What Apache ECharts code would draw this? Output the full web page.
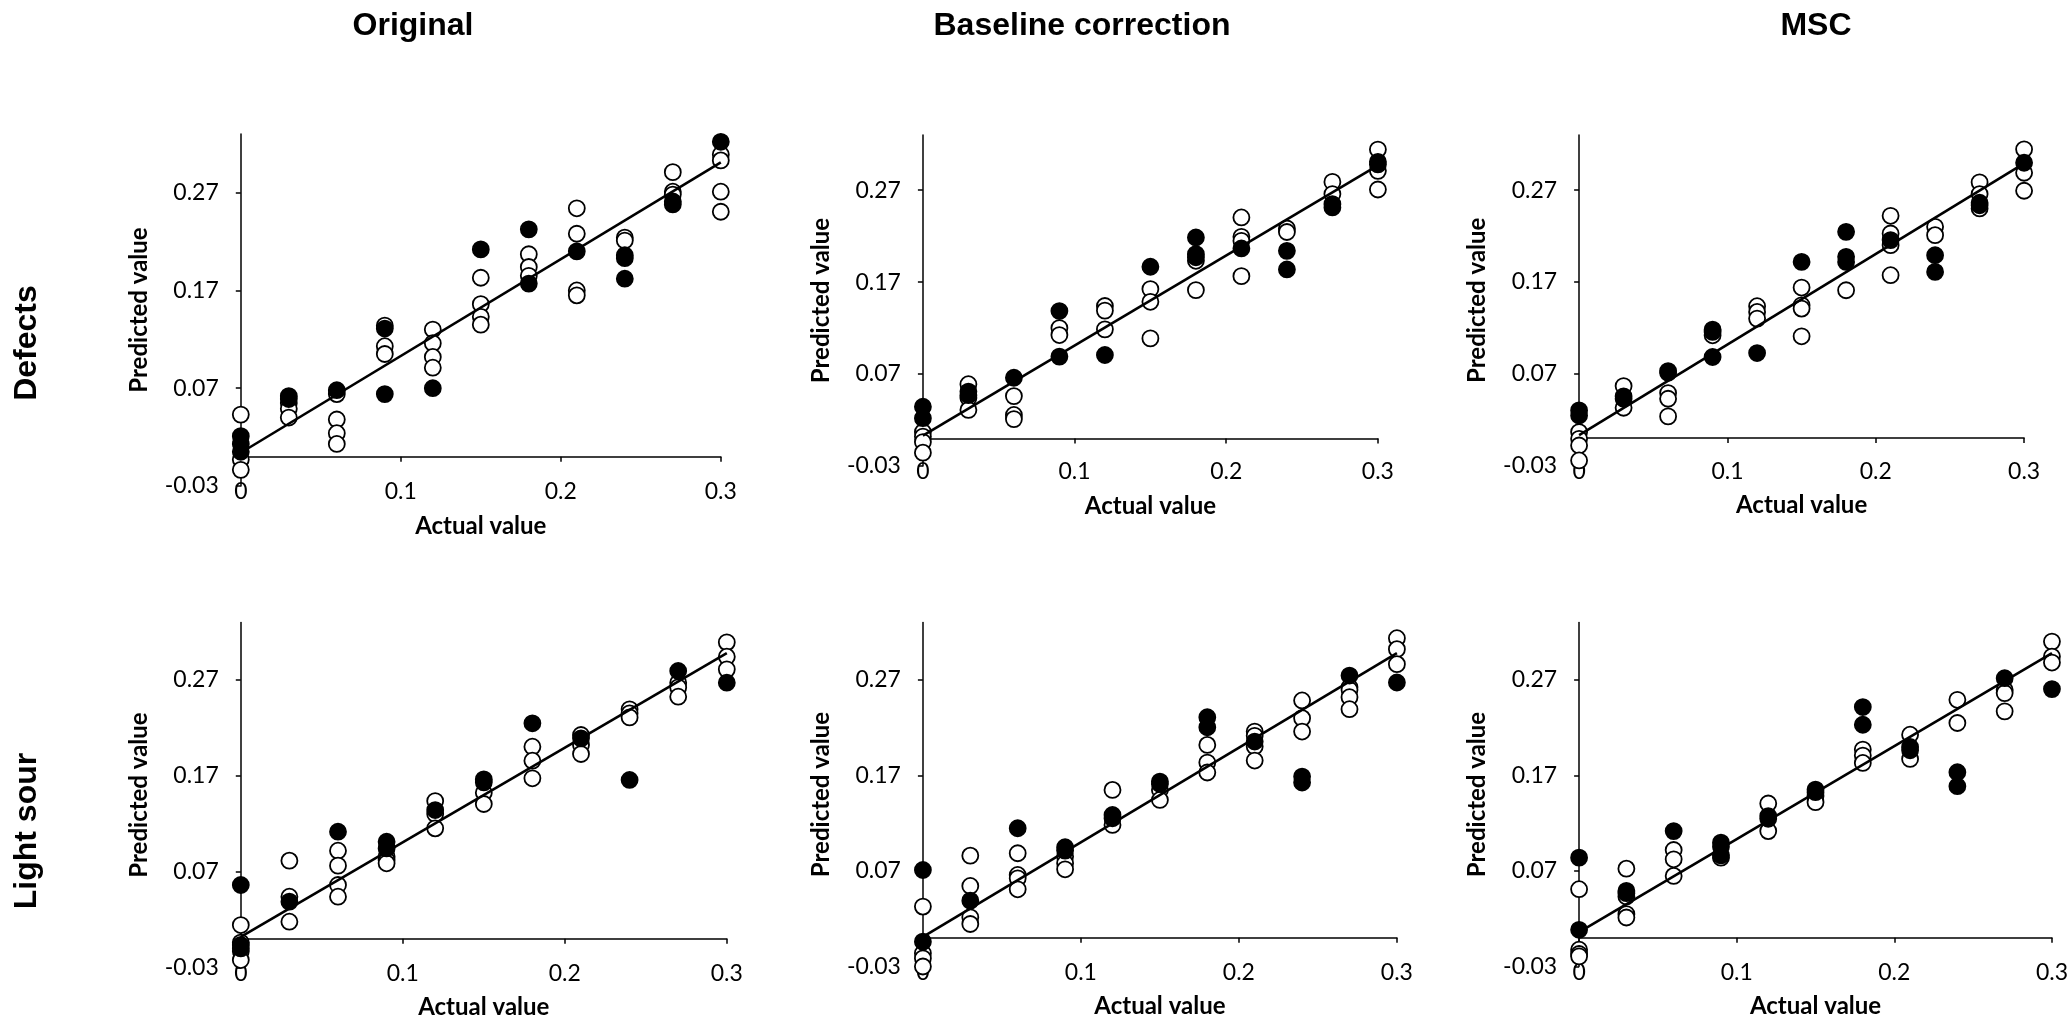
<!DOCTYPE html>
<html><head><meta charset="utf-8">
<script src="https://cdn.jsdelivr.net/npm/echarts@6/dist/echarts.min.js"></script>
<style>html,body{margin:0;padding:0;background:#fff}#c{width:2071px;height:1022px}</style>
</head><body><div id="c"></div>
<script>
// ---------- data ----------
const actual = [0, 0.03, 0.06, 0.09, 0.12, 0.15, 0.18, 0.21, 0.24, 0.27, 0.30];
const xTicks = [0, 0.1, 0.2, 0.3];
const yTicks = [-0.03, 0.07, 0.17, 0.27];
const columnTitles = ['Original', 'Baseline correction', 'MSC'];
const rowTitles = ['Defects', 'Light sour'];
const xName = 'Actual value';
const yName = 'Predicted value';

// predicted values, one inner list per actual value (open = hollow markers, filled = black markers)
const defOrigOpen = [[0.043,-0.003,-0.0135],[0.055,0.049,0.040],[0.064,0.038,0.024,0.013],[0.134,0.113,0.105],[0.130,0.116,0.102,0.091],[0.183,0.156,0.143,0.135],[0.207,0.194,0.185],[0.254,0.228,0.170,0.165],[0.224,0.221],[0.291,0.271,0.268],[0.309,0.303,0.271,0.2505]];
const defOrigFilled = [[0.021,0.013,0.005],[0.062,0.059],[0.068],[0.131,0.064],[0.070],[0.212],[0.2325,0.177],[0.210],[0.206,0.203,0.182],[0.261,0.258],[0.322]];
const defOrigFit = [[0, 0.004], [0.3, 0.301]];

const defBaseOpen = [[0.007,0.002,-0.004,-0.0155],[0.059,0.044,0.031],[0.046,0.0255,0.021],[0.120,0.1124],[0.144,0.139,0.1186],[0.1624,0.1486,0.1088],[0.1932,0.1613],[0.2403,0.2193,0.2149,0.1765],[0.2283,0.2245],[0.279,0.2657],[0.3142,0.291,0.2707]];
const defBaseFilled = [[0.0345,0.022],[0.051,0.047],[0.066],[0.1385,0.089],[0.0907],[0.1867],[0.2186,0.2004,0.197],[0.2066],[0.204,0.1838],[0.2548,0.2512],[0.3008,0.298]];
const defBaseFit = [[0, 0.003], [0.3, 0.297]];

const defMscOpen = [[0.0064,-0.0009,-0.0082,-0.0245],[0.0565,0.0329],[0.0489,0.0427,0.0235],[0.1118],[0.1435,0.1373,0.130],[0.1638,0.1445,0.1409,0.1107],[0.1609],[0.242,0.2227,0.210,0.1773],[0.230,0.2209],[0.2784,0.2656,0.250],[0.3144,0.2889,0.2693]];
const defMscFilled = [[0.030,0.0245],[0.0453,0.0427],[0.0729,0.071],[0.118,0.1155,0.0882],[0.0925],[0.1918],[0.2245,0.1973,0.1918],[0.2155],[0.1991,0.1809],[0.2562,0.2535],[0.2998]];
const defMscFit = [[0, 0.003], [0.3, 0.299]];

const lsOrigOpen = [[0.0143,-0.004,-0.013,-0.0222],[0.0815,0.0439,0.0178],[0.0919,0.0763,0.0561,0.0439],[0.0857,0.0822,0.0787],[0.1437,0.1302,0.1152],[0.1524,0.1406],[0.2004,0.1858,0.1674],[0.2126,0.2022,0.1928],[0.2394,0.2352,0.231],[0.2672,0.2623,0.2526],[0.3093,0.2943,0.2811]];
const lsOrigFilled = [[0.0561,-0.0065,-0.010],[0.0387],[0.1117],[0.1013,0.0943],[0.1343],[0.1663,0.1632],[0.2248],[0.2091],[0.1657],[0.2794],[0.2672]];
const lsOrigFit = [[0, 0.002], [0.3, 0.298]];

const lsBaseOpen = [[0.0327,-0.0162,-0.0214,-0.030],[0.086,0.0543,0.0215,0.0145],[0.0885,0.0658,0.0623,0.0508],[0.085,0.078,0.0717],[0.1548,0.1182],[0.1548,0.1443],[0.2019,0.1834,0.173],[0.2159,0.2114,0.2002,0.1855],[0.2484,0.2299,0.2159],[0.2623,0.2595,0.2518,0.2393],[0.3136,0.3021,0.2864]];
const lsBaseFilled = [[0.071,-0.004],[0.0389],[0.1147],[0.0948,0.0913],[0.1286,0.1251],[0.1635,0.1611],[0.2309,0.2204],[0.2054],[0.1688,0.1625],[0.2745],[0.2672]];
const lsBaseFit = [[0, 0.001], [0.3, 0.298]];

const lsMscOpen = [[0.0509,-0.0124,-0.0169,-0.0194],[0.0724,0.0432,0.0248,0.0213],[0.0919,0.0822,0.0648],[0.0839],[0.1406,0.1117],[0.1483,0.142],[0.197,0.1907,0.183],[0.2126,0.1872],[0.2491,0.2248],[0.2596,0.2561,0.237],[0.310,0.2943,0.2881]];
const lsMscFilled = [[0.0839,0.0084],[0.0491,0.0467],[0.1117],[0.0996,0.0954,0.0863],[0.1274,0.1246],[0.1552,0.1524],[0.2415,0.223],[0.1997,0.1963],[0.1733,0.1587],[0.2717],[0.2603]];
const lsMscFit = [[0, 0.006], [0.3, 0.298]];

// ---------- layout ----------
const panels = [
  {open: defOrigOpen, filled: defOrigFilled, fit: defOrigFit, grid: {left: 240.8, top: 134, width: 480, height: 352}},
  {open: defBaseOpen, filled: defBaseFilled, fit: defBaseFit, grid: {left: 922.9, top: 135, width: 455, height: 331}},
  {open: defMscOpen, filled: defMscFilled, fit: defMscFit, grid: {left: 1579.1, top: 135, width: 445, height: 330.5}},
  {open: lsOrigOpen, filled: lsOrigFilled, fit: lsOrigFit, grid: {left: 240.8, top: 622.5, width: 486, height: 345}},
  {open: lsBaseOpen, filled: lsBaseFilled, fit: lsBaseFit, grid: {left: 922.9, top: 622.5, width: 474, height: 344}},
  {open: lsMscOpen, filled: lsMscFilled, fit: lsMscFit, grid: {left: 1579.1, top: 622.5, width: 473, height: 344}}
];
const titleX = [413, 1082, 1816];
const rowY = [343, 831];

function toPoints(groups) {
  const out = [];
  groups.forEach((g, i) => g.forEach(v => out.push([actual[i], v])));
  return out;
}
const fmt = v => String(Math.round(v * 100) / 100);
const labelFont = 'Lato, "Open Sans", sans-serif';

const grids = [], xAxes = [], yAxes = [], series = [];
panels.forEach((p, i) => {
  grids.push(Object.assign({containLabel: false}, p.grid));
  // axis carrying labels and name, at the bottom of the plot
  xAxes.push({
    type: 'value', gridIndex: i, position: 'bottom', min: 0, max: 0.3,
    axisLine: {show: false, onZero: false}, axisTick: {show: false}, splitLine: {show: false},
    axisLabel: {customValues: xTicks, formatter: fmt, margin: 6, verticalAlign: 'middle',
      fontFamily: labelFont, fontSize: 23, color: '#000'},
    name: xName, nameLocation: 'middle', nameGap: 40,
    nameTextStyle: {fontFamily: labelFont, fontWeight: 'bold', fontSize: 24, color: '#000', verticalAlign: 'middle'}
  });
  // axis line crossing at y = 0
  xAxes.push({
    type: 'value', gridIndex: i, position: 'top', min: 0, max: 0.3,
    axisLine: {show: true, onZero: true, lineStyle: {color: '#000', width: 1.5}},
    axisTick: {show: true, inside: true, length: 5, customValues: xTicks, lineStyle: {color: '#000', width: 1.5}},
    axisLabel: {show: false}, splitLine: {show: false}
  });
  yAxes.push({
    type: 'value', gridIndex: i, min: -0.03, max: 0.33,
    axisLine: {show: true, onZero: false, lineStyle: {color: '#000', width: 1.5}},
    axisTick: {show: true, length: 5, customValues: yTicks, lineStyle: {color: '#000', width: 1.5}},
    axisLabel: {customValues: yTicks, formatter: fmt, margin: 22, fontFamily: labelFont, fontSize: 23, color: '#000'},
    splitLine: {show: false},
    name: yName, nameLocation: 'middle', nameGap: 102,
    nameTextStyle: {fontFamily: labelFont, fontWeight: 'bold', fontSize: 24, color: '#000', verticalAlign: 'middle'}
  });
  series.push({
    type: 'scatter', xAxisIndex: 2 * i, yAxisIndex: i, data: toPoints(p.open),
    symbol: 'circle', symbolSize: 16, clip: false, silent: true, z: 3,
    itemStyle: {color: '#fff', borderColor: '#000', borderWidth: 1.8, opacity: 1}
  });
  series.push({
    type: 'scatter', xAxisIndex: 2 * i, yAxisIndex: i, data: toPoints(p.filled),
    symbol: 'circle', symbolSize: 16, clip: false, silent: true, z: 4,
    itemStyle: {color: '#000', borderColor: '#000', borderWidth: 1.8, opacity: 1}
  });
  series.push({
    type: 'line', xAxisIndex: 2 * i, yAxisIndex: i, data: p.fit,
    symbol: 'none', silent: true, z: 5, lineStyle: {color: '#000', width: 2.6}
  });
});

const graphics = [];
columnTitles.forEach((t, i) => graphics.push({
  type: 'text', x: titleX[i], y: 26,
  style: {text: t, font: 'bold 32px "Liberation Sans", Arial, sans-serif', fill: '#000', align: 'center', verticalAlign: 'middle'}
}));
rowTitles.forEach((t, i) => graphics.push({
  type: 'text', x: 27, y: rowY[i], rotation: Math.PI / 2,
  style: {text: t, font: 'bold 32px "Liberation Sans", Arial, sans-serif', fill: '#000', align: 'center', verticalAlign: 'middle'}
}));

const chart = echarts.init(document.getElementById('c'), null, {renderer: 'canvas'});
chart.setOption({
  animation: false,
  backgroundColor: '#fff',
  grid: grids, xAxis: xAxes, yAxis: yAxes, series: series,
  graphic: graphics
});
</script></body></html>
